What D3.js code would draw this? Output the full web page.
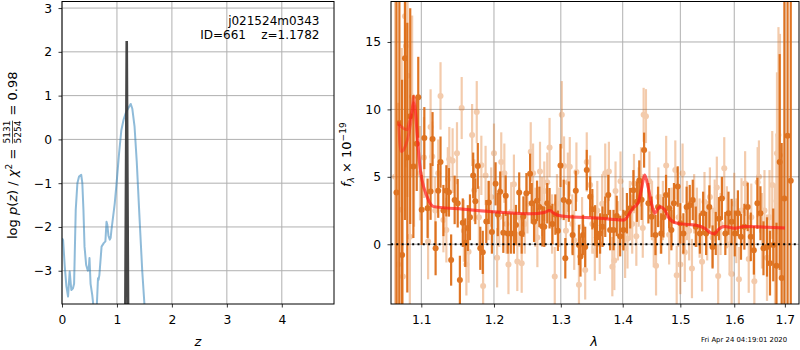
<!DOCTYPE html>
<html><head><meta charset="utf-8">
<script src="https://cdn.jsdelivr.net/npm/d3@7"></script>
<style>body{margin:0;background:#fff}svg{font-family:"DejaVu Sans",sans-serif;display:block}</style>
</head><body><svg id="c" width="800" height="350"></svg>
<script>
// ---------- data ----------
const pzZ = [0,0.02,0.05,0.08,0.11,0.14,0.17,0.2,0.22,0.25,0.28,0.31,0.35,0.37,0.39,0.41,0.44,0.47,0.49,0.5,0.52,0.55,0.58,0.61,0.63,0.655,0.665,0.68,0.72,0.76,0.79,0.81,0.825,0.845,0.87,0.885,0.9,0.96,1.0,1.04,1.08,1.12,1.16,1.2,1.25,1.28,1.32,1.36,1.41,1.46,1.5,1.55];
const pzLog = [-2.26,-2.3,-2.9,-3.35,-3.59,-3.02,-3.44,-3.4,-3.3,-1.61,-1.0,-0.85,-0.81,-1.0,-1.6,-2.45,-2.87,-3.0,-2.9,-2.71,-3.3,-3.55,-3.9,-4.5,-3.9,-3.17,-3.21,-3.1,-2.45,-2.37,-2.33,-1.88,-1.95,-2.2,-2.29,-2.25,-2.07,-1.46,-0.9,-0.3,0.21,0.45,0.6,0.7,0.81,0.7,0.3,-0.5,-1.77,-3.0,-3.76,-4.5];
const peakZ = [1.15,1.178,1.205];
const peakLog = [-4.5,2.25,-4.5];
const zTicks = [0,1,2,3,4];
const logTicks = [-3,-2,-1,0,1,2,3];
const lamTicks = [1.1,1.2,1.3,1.4,1.5,1.6,1.7];
const fluxTicks = [0,5,10,15];

const darkWave = [1.0678,1.0715,1.0750,1.0787,1.0817,1.0855,1.0896,1.0940,1.0960,1.1005,1.1040,1.1083,1.1123,1.1149,1.1190,1.1225,1.1256,1.1295,1.1335,1.1370,1.1400,1.1448,1.1490,1.1520,1.1560,1.1595,1.1630,1.1660,1.1705,1.1735,1.1770,1.1805,1.1840,1.1890,1.1925,1.1970,1.2023,1.2055,1.2090,1.2135,1.2170,1.2200,1.2245,1.2290,1.2320,1.2368,1.2405,1.2430,1.2475,1.2530,1.2555,1.2590,1.2635,1.2670,1.2715,1.2745,1.2790,1.2826,1.2870,1.2915,1.2955,1.2995,1.3045,1.3070,1.3125,1.3185,1.3235,1.3285,1.3310,1.3350,1.3385,1.3410,1.3465,1.3500,1.3545,1.3574,1.3626,1.3666,1.3710,1.3760,1.3790,1.3847,1.3900,1.3957,1.4012,1.4070,1.4126,1.4180,1.4240,1.4280,1.4320,1.4363,1.4437,1.4493,1.4560,1.4605,1.4660,1.4700,1.4745,1.4800,1.4840,1.4886,1.4953,1.5000,1.5055,1.5113,1.5170,1.5225,1.5280,1.5355,1.5415,1.5470,1.5530,1.5590,1.5650,1.5710,1.5765,1.5830,1.5890,1.5950,1.6010,1.6070,1.6130,1.6195,1.6260,1.6320,1.6380,1.6450,1.6510,1.6570,1.6640,1.6700,1.6765,1.6830,1.6895,1.6935,1.6990,1.7055,1.7120];
const darkFlux = [3.83,9.0,-0.8,13.8,6.43,9.5,5.76,7.45,10.9,2.55,7.87,2.67,3.91,7.80,-0.30,3.96,6.09,2.50,3.96,3.85,-1.17,3.29,3.04,-2.65,1.60,0.12,1.20,2.00,5.10,3.19,5.81,-0.30,-0.60,1.68,3.10,0.90,4.48,2.20,3.90,0.86,3.60,0.80,0.80,0.80,1.42,3.83,0.80,2.05,3.78,5.22,3.04,1.67,3.22,2.77,1.33,1.30,3.04,2.67,1.50,2.20,1.00,5.84,3.29,-1.04,3.16,0.69,3.96,-0.05,-0.90,0.69,-0.20,5.50,3.53,2.60,1.40,0.50,0.80,1.30,2.04,3.65,1.05,1.05,2.10,0.60,1.05,2.30,2.67,4.00,3.16,4.72,3.30,6.98,3.04,2.04,0.69,2.77,0.80,2.00,3.65,2.67,1.05,3.04,4.28,1.55,0.80,2.77,2.90,3.29,1.30,0.80,2.30,0.80,2.77,-0.20,0.80,1.90,3.40,0.80,2.30,1.67,0.80,2.30,0.55,1.30,2.77,0.55,-0.45,3.04,2.30,-0.30,-0.20,-1.40,-0.05,-1.60,6.10,-2.50,3.40,8.04,4.70];
const darkErr = [15,14,13,12,10,8,5.3,3.5,3.0,2.6,2.3,2.2,2.1,2.0,2.0,2.0,1.9,1.9,1.9,1.8,1.9,1.8,1.8,1.8,1.8,1.8,1.7,1.7,1.7,1.7,1.7,1.6,1.6,1.6,1.6,1.6,1.6,1.6,1.5,1.5,1.5,1.5,1.5,1.5,1.5,1.5,1.5,1.5,1.5,1.5,1.5,1.5,1.5,1.5,1.5,1.5,1.5,1.5,1.5,1.5,1.5,1.6,1.5,1.5,1.5,1.5,1.5,1.5,1.5,1.5,1.5,1.5,1.5,1.5,1.5,1.5,1.5,1.5,1.5,1.5,1.5,1.5,1.5,1.5,1.5,1.5,1.5,1.5,1.5,1.5,1.5,1.3,1.5,1.5,1.5,1.5,1.5,1.5,1.5,1.5,1.5,1.5,1.5,1.5,1.5,1.5,1.5,1.5,1.5,1.5,1.6,1.6,1.6,1.6,1.6,1.6,1.6,1.6,1.6,1.7,1.7,1.7,1.7,1.7,1.8,1.8,1.8,1.9,2.0,2.0,2.2,2.4,2.7,3.2,8,10,15,20,25];

const lightWave = [1.0660,1.0700,1.0745,1.0760,1.0787,1.0800,1.0820,1.0850,1.0880,1.0905,1.0983,1.1035,1.1090,1.1123,1.1145,1.1185,1.1225,1.1256,1.1295,1.1335,1.1355,1.1375,1.1420,1.1480,1.1545,1.1575,1.1610,1.1640,1.1690,1.1720,1.1755,1.1785,1.1820,1.1845,1.1880,1.1920,1.1960,1.2000,1.2045,1.2075,1.2105,1.2150,1.2180,1.2210,1.2250,1.2290,1.2340,1.2370,1.2405,1.2450,1.2490,1.2540,1.2575,1.2610,1.2640,1.2680,1.2710,1.2745,1.2790,1.2826,1.2865,1.2906,1.2940,1.2975,1.3015,1.3050,1.3080,1.3110,1.3140,1.3180,1.3210,1.3245,1.3285,1.3335,1.3385,1.3410,1.3465,1.3500,1.3540,1.3580,1.3620,1.3660,1.3710,1.3770,1.3827,1.3860,1.3880,1.3920,1.3963,1.4000,1.4040,1.4080,1.4120,1.4160,1.4190,1.4230,1.4270,1.4310,1.4340,1.4355,1.4395,1.4455,1.4500,1.4530,1.4570,1.4610,1.4650,1.4690,1.4748,1.4800,1.4845,1.4910,1.4935,1.4970,1.5000,1.5040,1.5080,1.5120,1.5160,1.5210,1.5250,1.5300,1.5350,1.5395,1.5440,1.5490,1.5540,1.5590,1.5630,1.5670,1.5695,1.5740,1.5810,1.5860,1.5910,1.5950,1.6000,1.6040,1.6090,1.6140,1.6210,1.6280,1.6330,1.6390,1.6455,1.6480,1.6540,1.6590,1.6640,1.6690,1.6745,1.6800,1.6830,1.6840,1.6870,1.6900];
const lightFlux = [5.0,-1.5,2.55,-2.4,16.9,14.7,12.5,0.56,10.96,5.80,5.27,6.43,0.20,8.69,6.50,2.50,5.27,11.0,1.80,1.05,4.80,6.30,6.20,6.75,10.1,1.00,-1.50,-0.55,8.10,4.00,9.80,2.00,5.85,-3.10,5.10,2.50,3.50,6.75,-1.00,2.00,6.10,5.27,1.50,-1.50,2.40,4.45,-1.27,2.00,-1.40,1.50,3.00,6.85,5.27,2.00,0.50,5.40,2.80,3.94,4.60,7.17,1.50,-2.40,3.00,2.00,9.60,5.80,1.00,4.60,5.75,1.50,0.30,5.35,-3.00,1.30,-1.90,6.10,4.39,1.50,-0.50,2.50,0.00,3.00,5.27,5.40,-1.66,-1.20,3.94,1.00,4.68,2.00,-0.30,0.40,2.50,1.50,4.50,0.60,3.50,5.00,1.20,9.60,9.50,4.68,2.50,0.50,-1.60,3.50,1.50,2.50,5.84,0.70,2.00,5.50,-2.30,2.00,-1.50,5.27,-0.60,2.50,1.00,-1.80,3.00,2.00,1.20,-1.30,3.16,1.00,3.50,0.50,2.50,4.20,-2.35,1.50,5.64,2.00,0.00,-2.20,3.00,1.00,-2.60,2.50,4.50,-1.10,2.00,-2.75,4.60,5.00,1.00,2.50,-1.00,2.00,4.40,0.00,3.20,6.75,8.10,6.60];
const lightErr = [14,12,12,11,10,9,9,7,6,4.5,3.5,3.0,2.8,2.8,2.6,2.5,2.5,2.5,2.4,2.4,2.4,2.4,2.4,2.3,2.3,2.3,2.3,2.3,2.3,2.3,2.3,2.3,2.2,2.2,2.2,2.2,2.2,2.2,2.2,2.2,2.2,2.2,2.2,2.2,2.2,2.2,2.2,2.2,2.2,2.2,2.2,2.2,2.2,2.2,2.2,2.2,2.2,2.2,2.2,2.2,2.2,2.2,2.2,2.2,2.5,2.2,2.2,2.2,2.2,2.2,2.2,2.2,2.2,2.2,2.2,2.2,2.2,2.2,2.2,2.2,2.2,2.2,2.2,2.2,2.2,2.2,2.2,2.2,2.2,2.2,2.2,2.2,2.2,2.2,2.2,2.2,2.2,2.2,2.2,2.0,2.0,2.2,2.2,2.2,2.2,2.2,2.2,2.2,2.2,2.2,2.2,2.2,2.2,2.2,2.2,2.2,2.2,2.2,2.2,2.2,2.2,2.2,2.2,2.2,2.2,2.2,2.2,2.2,2.3,2.3,2.3,2.3,2.3,2.3,2.3,2.3,2.3,2.4,2.4,2.4,2.4,2.5,2.5,2.6,2.6,2.7,2.8,3.0,3.2,3.5,4.0,4.5,5,6,8,9];

const modelAWave = [1.0705,1.0736,1.0790,1.0878,1.0899,1.0921,1.0951,1.0987,1.1009,1.1075,1.1163,1.157,1.2045,1.254,1.2746,1.2826,1.2906,1.3014,1.3623,1.4025,1.4081,1.417,1.4256,1.4315,1.4373,1.4431,1.449,1.4548,1.4636,1.4724,1.4782,1.4901,1.502,1.526,1.5443,1.5567,1.5628,1.569,1.5815,1.6005,1.6196,1.6654,1.700];
const modelAFlux = [9.1,6.87,7.25,9.72,10.96,9.97,7.74,5.5,4.77,3.53,2.79,2.6,2.4,2.27,2.36,2.5,2.25,2.1,1.93,1.8,2.05,2.67,3.04,4.03,5.14,4.28,3.04,2.3,2.79,2.55,2.05,1.6,1.51,1.43,1.19,0.82,0.77,1.06,1.31,1.19,1.31,1.26,1.21];
const modelBWave = [1.0705,1.0815,1.0834,1.0878,1.0899,1.0921,1.0951,1.0987,1.1009,1.1075,1.1163,1.157,1.2045,1.254,1.2746,1.2826,1.2906,1.3014,1.3623,1.4025,1.4081,1.417,1.4256,1.4315,1.4373,1.4431,1.449,1.4548,1.4636,1.4724,1.4782,1.4901,1.502,1.526,1.5443,1.5567,1.5628,1.569,1.5815,1.6005,1.6196,1.6654,1.700];
const modelBFlux = [8.9,8.49,8.86,9.9,10.5,9.97,7.74,5.5,4.77,3.53,2.79,2.6,2.4,2.27,2.36,2.5,2.25,2.1,1.93,1.8,2.05,2.67,3.04,4.03,5.14,4.28,3.04,2.3,2.79,2.55,2.05,1.6,1.51,1.43,1.19,0.82,0.77,1.06,1.31,1.19,1.31,1.26,1.21];

// ---------- drawing ----------
const svg = d3.select("#c");
const TOP = 1.5, BOT = 304;
const L = {x0: 62, x1: 334}, R = {x0: 391, x1: 799};
const gridC = "#b0b0b0";
const darkC = "#dd6a12";

const xz = d3.scaleLinear().domain([0, 4.95]).range([L.x0, L.x1]);
const yp = d3.scaleLinear().domain([-3.76, 3.15]).range([BOT, TOP]);
const xl = d3.scaleLog().domain([1.0608, 1.729]).range([R.x0, R.x1]);
const yf = d3.scaleLinear().domain([-4.43, 18.0]).range([BOT, TOP]);

const defs = svg.append("defs");
defs.append("clipPath").attr("id","clipL").append("rect").attr("x",L.x0).attr("y",TOP).attr("width",L.x1-L.x0).attr("height",BOT-TOP);
defs.append("clipPath").attr("id","clipR").append("rect").attr("x",R.x0).attr("y",TOP).attr("width",R.x1-R.x0).attr("height",BOT-TOP);

function grid(g, xs, xt, ys, yt, P) {
  g.selectAll(null).data(xt).join("line").attr("x1",d=>xs(d)).attr("x2",d=>xs(d)).attr("y1",TOP).attr("y2",BOT).attr("stroke",gridC).attr("stroke-width",1);
  g.selectAll(null).data(yt).join("line").attr("y1",d=>ys(d)).attr("y2",d=>ys(d)).attr("x1",P.x0).attr("x2",P.x1).attr("stroke",gridC).attr("stroke-width",1);
}
function axes(xs, xt, xfmt, ys, yt, yfmt, P) {
  const ax = svg.append("g").attr("transform",`translate(0,${BOT})`)
    .call(d3.axisBottom(xs).tickValues(xt).tickFormat(xfmt).tickSize(3.5).tickPadding(7.5));
  const ay = svg.append("g").attr("transform",`translate(${P.x0},0)`)
    .call(d3.axisLeft(ys).tickValues(yt).tickFormat(yfmt).tickSize(3.5).tickPadding(6.5));
  [ax, ay].forEach(a => {
    a.select(".domain").remove();
    a.selectAll("text").attr("font-size",12.3).attr("fill","#000").attr("font-family","DejaVu Sans");
    a.selectAll("line").attr("stroke","#000").attr("stroke-width",0.8);
  });
  svg.append("rect").attr("x",P.x0).attr("y",TOP).attr("width",P.x1-P.x0).attr("height",BOT-TOP)
    .attr("fill","none").attr("stroke","#000").attr("stroke-width",1);
}
const fmtMinus = d => (d < 0 ? "\u2212" + Math.abs(d) : String(d));

// Left panel
const gL = svg.append("g");
grid(gL, xz, zTicks, yp, logTicks, L);
const cL = svg.append("g").attr("clip-path","url(#clipL)");
const lineL = d3.line().x(d=>xz(d[0])).y(d=>yp(d[1]));
cL.append("path").datum(d3.zip(pzZ, pzLog)).attr("d", lineL).attr("fill","none")
  .attr("stroke","#1f77b4").attr("stroke-opacity",0.5).attr("stroke-width",2).attr("stroke-linejoin","round");
cL.append("path").datum(d3.zip(peakZ, peakLog)).attr("d", lineL).attr("fill","none")
  .attr("stroke","#333").attr("stroke-opacity",0.9).attr("stroke-width",2.6);
axes(xz, zTicks, d=>String(d), yp, logTicks, fmtMinus, L);
svg.append("text").attr("x",319.5).attr("y",24.5).attr("text-anchor","end").attr("font-size",12).text("j021524m0343");
svg.append("text").attr("x",319.5).attr("y",39).attr("text-anchor","end").attr("font-size",12).attr("xml:space","preserve").text("ID=661    z=1.1782");

// Right panel
const gR = svg.append("g");
grid(gR, xl, lamTicks, yf, fluxTicks, R);
const cR = svg.append("g").attr("clip-path","url(#clipR)");
const light = d3.zip(lightWave, lightFlux, lightErr);
const dark = d3.zip(darkWave, darkFlux, darkErr);
const lg = cR.append("g").attr("opacity",0.35);
lg.selectAll("line").data(light).join("line").attr("x1",d=>xl(d[0])).attr("x2",d=>xl(d[0]))
  .attr("y1",d=>yf(d[1]-d[2])).attr("y2",d=>yf(d[1]+d[2])).attr("stroke",darkC).attr("stroke-width",2.2);
lg.selectAll("circle").data(light).join("circle").attr("cx",d=>xl(d[0])).attr("cy",d=>yf(d[1])).attr("r",3).attr("fill",darkC);
const dg = cR.append("g").attr("opacity",0.92);
dg.selectAll("line").data(dark).join("line").attr("x1",d=>xl(d[0])).attr("x2",d=>xl(d[0]))
  .attr("y1",d=>yf(d[1]-d[2])).attr("y2",d=>yf(d[1]+d[2])).attr("stroke",darkC).attr("stroke-width",2.2);
dg.selectAll("circle").data(dark).join("circle").attr("cx",d=>xl(d[0])).attr("cy",d=>yf(d[1])).attr("r",3).attr("fill",darkC);
const lineR = d3.line().x(d=>xl(d[0])).y(d=>yf(d[1])).curve(d3.curveMonotoneX);
[[modelAWave, modelAFlux],[modelBWave, modelBFlux]].forEach(([w,f]) => {
  cR.append("path").datum(d3.zip(w,f)).attr("d", lineR).attr("fill","none")
    .attr("stroke","#ff1a1a").attr("stroke-opacity",0.45).attr("stroke-width",3).attr("stroke-linejoin","round");
});
cR.append("line").attr("x1",R.x0).attr("x2",R.x1).attr("y1",yf(0)).attr("y2",yf(0))
  .attr("stroke","#000").attr("stroke-width",2).attr("stroke-dasharray","2,3.3");
axes(xl, lamTicks, d3.format(".1f"), yf, fluxTicks, d=>String(d), R);

// Labels
svg.append("text").attr("x",198).attr("y",346).attr("text-anchor","middle").attr("font-size",13).attr("font-style","italic").text("z");
svg.append("text").attr("x",594).attr("y",346).attr("text-anchor","middle").attr("font-size",13).attr("font-style","italic").text("λ");
svg.append("text").attr("x",701).attr("y",342.3).attr("font-size",6.9).text("Fri Apr 24 04:19:01 2020");

// left y label
const gy = svg.append("g").attr("transform","translate(17,239) rotate(-90)");
const t1 = gy.append("text").attr("x",0).attr("y",0).attr("font-size",13).attr("xml:space","preserve");
t1.append("tspan").text("log ");
t1.append("tspan").attr("font-style","italic").text("p");
t1.append("tspan").text("(");
t1.append("tspan").attr("font-style","italic").text("z");
t1.append("tspan").text(") / ");
t1.append("tspan").attr("font-style","italic").text("χ");
t1.append("tspan").attr("font-size",9).attr("dy",-5.5).text("2");
t1.append("tspan").attr("dy",5.5).text(" = ");
const w1 = t1.node().getComputedTextLength();
const fx = w1 + 1;
const num = gy.append("text").attr("x",fx).attr("y",-6.8).attr("font-size",9).text("5131");
const fw = num.node().getComputedTextLength();
gy.append("text").attr("x",fx).attr("y",4).attr("font-size",9).text("5254");
gy.append("line").attr("x1",fx).attr("x2",fx+fw).attr("y1",-4.5).attr("y2",-4.5).attr("stroke","#000").attr("stroke-width",0.7);
gy.append("text").attr("x",fx+fw+1).attr("y",0).attr("font-size",13).attr("xml:space","preserve").text(" = 0.98");

// right y label
const gy2 = svg.append("g").attr("transform","translate(351,187) rotate(-90)");
const t2 = gy2.append("text").attr("x",0).attr("y",0).attr("font-size",13).attr("xml:space","preserve");
t2.append("tspan").attr("font-style","italic").text("f");
t2.append("tspan").attr("font-size",9).attr("font-style","italic").attr("dy",2.5).text("λ");
t2.append("tspan").attr("dy",-2.5).text(" × 10");
t2.append("tspan").attr("font-size",9).attr("dy",-5.5).text("−19");
</script></body></html>
